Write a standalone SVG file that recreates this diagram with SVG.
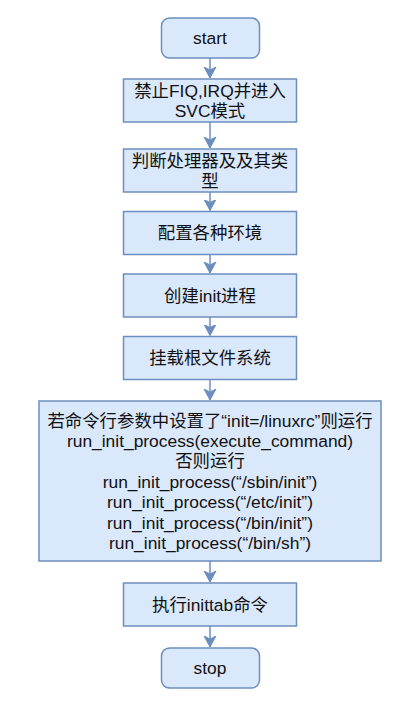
<svg xmlns="http://www.w3.org/2000/svg" width="420" height="703" viewBox="0 0 420 703">
<style>
.box{fill:#dae8fc;stroke:#6c8ebf;stroke-width:1.5}
.t{font-family:"Liberation Sans","Noto Sans CJK SC",sans-serif;font-size:17.4px;fill:#111;text-anchor:middle}
.ln{stroke:#6c8ebf;stroke-width:1.5;fill:none}
</style>
<defs>
<marker id="ah" markerUnits="userSpaceOnUse" markerWidth="14" markerHeight="14" refX="11" refY="6" orient="auto" viewBox="0 0 14 12">
<path d="M0,0 L11,6 L0,12 L3,6 Z" fill="#6c8ebf" stroke="#6c8ebf" stroke-width="1"/>
</marker>
</defs>
<g id="connectors">
<line class="ln" x1="210" y1="58" x2="210" y2="78" marker-end="url(#ah)"/>
<line class="ln" x1="210" y1="122" x2="210" y2="148" marker-end="url(#ah)"/>
<line class="ln" x1="210" y1="192" x2="210" y2="210.5" marker-end="url(#ah)"/>
<line class="ln" x1="210" y1="254.5" x2="210" y2="273" marker-end="url(#ah)"/>
<line class="ln" x1="210" y1="317" x2="210" y2="335.5" marker-end="url(#ah)"/>
<line class="ln" x1="210" y1="379.5" x2="210" y2="400" marker-end="url(#ah)"/>
<line class="ln" x1="210" y1="561" x2="210" y2="582" marker-end="url(#ah)"/>
<line class="ln" x1="210" y1="626" x2="210" y2="647" marker-end="url(#ah)"/>
</g>
<g id="start">
<rect class="box" x="161.5" y="18" width="98" height="40" rx="8"/>
<text class="t" x="210" y="44">start</text>
</g>
<g id="n1">
<rect class="box" x="123.5" y="79" width="173" height="43"/>
<text class="t" x="210" y="97">禁止FIQ,IRQ并进入</text>
<text class="t" x="210" y="117.4">SVC模式</text>
</g>
<g id="n2">
<rect class="box" x="123.5" y="149" width="173" height="43"/>
<text class="t" x="210" y="167">判断处理器及及其类</text>
<text class="t" x="210" y="187.4">型</text>
</g>
<g id="n3">
<rect class="box" x="123.5" y="211.5" width="173" height="43"/>
<text class="t" x="210" y="239">配置各种环境</text>
</g>
<g id="n4">
<rect class="box" x="123.5" y="274" width="173" height="43"/>
<text class="t" x="210" y="301.5">创建init进程</text>
</g>
<g id="n5">
<rect class="box" x="123.5" y="336.5" width="173" height="43"/>
<text class="t" x="210" y="364">挂载根文件系统</text>
</g>
<g id="n6">
<rect class="box" x="39" y="401" width="342" height="160"/>
<text class="t" x="210" y="426.5">若命令行参数中设置了“init=/linuxrc”则运行</text>
<text class="t" x="210" y="446.9">run_init_process(execute_command)</text>
<text class="t" x="210" y="467.3">否则运行</text>
<text class="t" x="210" y="487.7">run_init_process(“/sbin/init”)</text>
<text class="t" x="210" y="508.1">run_init_process(“/etc/init”)</text>
<text class="t" x="210" y="528.5">run_init_process(“/bin/init”)</text>
<text class="t" x="210" y="548.9">run_init_process(“/bin/sh”)</text>
</g>
<g id="n7">
<rect class="box" x="123.5" y="583" width="173" height="43"/>
<text class="t" x="210" y="610.5">执行inittab命令</text>
</g>
<g id="stop">
<rect class="box" x="161.5" y="648" width="98" height="40" rx="8"/>
<text class="t" x="210" y="674">stop</text>
</g>
</svg>
